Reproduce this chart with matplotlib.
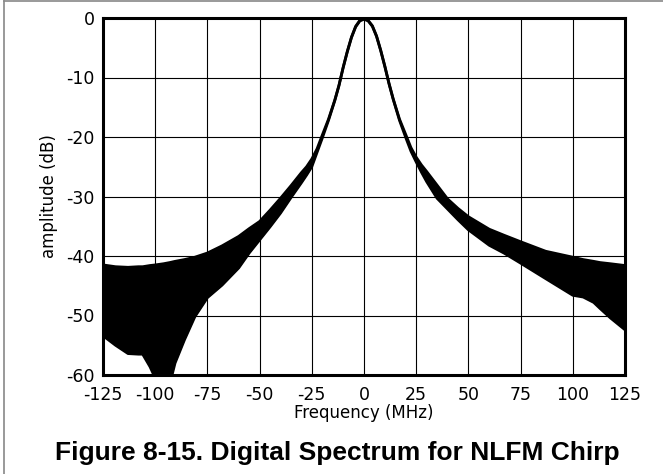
import numpy as np
import matplotlib
matplotlib.use('Agg')
import matplotlib.pyplot as plt

plt.rcParams['font.family'] = ['DejaVu Sans']

# Envelope of the NLFM chirp spectrum
freq = [-125, -119, -113, -108, -106, -102.5, -100, -96, -93, -90.5, -86, -81,
        -75, -68, -60, -55, -50, -45, -40, -35, -30, -27.5, -25, -22.5, -20, -17,
        -14, -12, -10, -8, -6, -4, -2, 0, 2, 4, 6, 8, 10, 12, 14, 17, 20, 22.5,
        25, 27.5, 30, 35, 40, 45, 50, 60, 67, 75, 87, 100, 105, 110, 113, 118, 125]
upper_db = [-41.5, -41.8, -41.9, -41.8, -41.8, -41.6, -41.5, -41.3, -41.1, -40.9,
            -40.6, -40.2, -39.5, -38.3, -36.7, -35.4, -34.2, -32.3, -30.3, -28.2,
            -26.0, -25.0, -23.7, -22.0, -19.7, -17.0, -13.8, -11.3, -8.3, -5.6,
            -3.2, -1.4, -0.4, -0.1, -0.4, -1.3, -3.0, -5.4, -8.1, -11.0, -13.6,
            -17.0, -19.6, -21.8, -23.4, -24.7, -25.8, -28.1, -30.4, -32.0, -33.4,
            -35.5, -36.5, -37.6, -39.2, -40.2, -40.6, -40.9, -41.1, -41.3, -41.6]
lower_db = [-53.4, -55.0, -56.4, -56.5, -56.5, -58.6, -60.5, -62.0, -61.5, -58.0,
            -54.1, -50.2, -47.0, -44.9, -42.0, -39.5, -37.3, -35.1, -32.8, -30.2,
            -27.7, -26.4, -25.0, -22.6, -20.2, -17.2, -13.9, -11.4, -8.4, -5.7,
            -3.3, -1.5, -0.5, -0.2, -0.5, -1.4, -3.1, -5.5, -8.2, -11.1, -13.7,
            -17.2, -20.1, -22.4, -24.2, -25.9, -27.5, -30.3, -32.1, -33.9, -35.6,
            -38.2, -39.5, -41.2, -43.8, -46.6, -46.9, -47.8, -48.8, -50.4, -52.4]

xticks = [-125, -100, -75, -50, -25, 0, 25, 50, 75, 100, 125]
yticks = [0, -10, -20, -30, -40, -50, -60]

fig = plt.figure(figsize=(6.63, 4.74), dpi=100)
ax = fig.add_axes([103 / 663, 1 - 375 / 474, 522 / 663, 357 / 474])

f = np.array(freq)
up = np.array(upper_db)
lo = np.array(lower_db)

ax.fill_between(f, lo, up, color='black', lw=0, zorder=3)
ax.plot(f, up, color='black', lw=2.0, zorder=4)
ax.plot(f, lo, color='black', lw=2.0, zorder=4)

ax.set_xlim(-125, 125)
ax.set_ylim(-60, 0)
ax.set_xticks(xticks)
ax.set_yticks(yticks)
ax.set_xticklabels([str(t) for t in xticks])
ax.set_yticklabels([str(t) for t in yticks])
ax.tick_params(length=0, labelsize=12.5, colors='black')
ax.tick_params(axis='x', pad=8)
ax.tick_params(axis='y', pad=6)
ax.grid(True, color='black', lw=0.8, zorder=1)
ax.set_axisbelow(True)
for s in ax.spines.values():
    s.set_linewidth(2.2)
    s.set_zorder(5)

ax.set_xlabel('Frequency (MHz)', fontsize=12, labelpad=0)
ax.set_ylabel('amplitude (dB)', fontsize=12, labelpad=6)

fig.text(0.5 * (53 + 621) / 663, 1 - 460 / 474,
         'Figure 8-15. Digital Spectrum for NLFM Chirp',
         ha='center', va='baseline', fontsize=19, fontweight='bold',
         family='Liberation Sans')

# outer frame (top and left edges visible)
fig.add_artist(plt.Line2D([4 / 663, 4 / 663], [0, 1 - 1 / 474],
                          color='#888888', lw=1.2, transform=fig.transFigure))
fig.add_artist(plt.Line2D([4 / 663, 1], [1 - 1 / 474, 1 - 1 / 474],
                          color='#888888', lw=1.2, transform=fig.transFigure))

fig.savefig('out.png', dpi=100)
